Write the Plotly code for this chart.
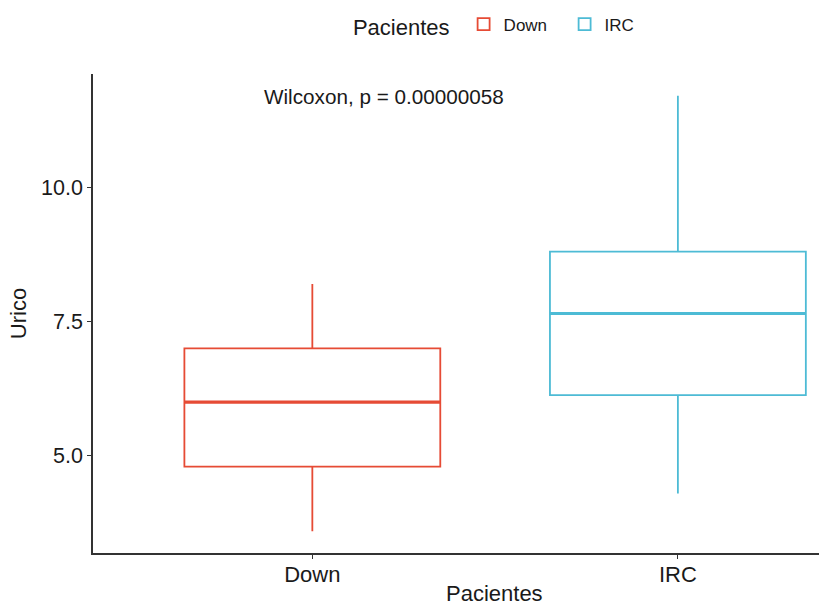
import plotly.graph_objects as go

# Box summary statistics per patient group
groups = ["Down", "IRC"]
positions = [1, 2]
lower_whisker = [3.6, 4.3]
q1 = [4.8, 6.13]
median = [6.0, 7.65]
q3 = [7.0, 8.8]
upper_whisker = [8.2, 11.7]
colors = ["#E64B35", "#4DBBD5"]

y_ticks = [5.0, 7.5, 10.0]
y_tick_labels = ["5.0", "7.5", "10.0"]
p_label = "Wilcoxon, p = 0.00000058"
x_title = "Pacientes"
y_title = "Urico"
legend_title = "Pacientes"

FONT = "Liberation Sans, Arial, Helvetica, sans-serif"
TEXT = "#1a1a1a"
BOX_WIDTH = 0.7

fig = go.Figure()

for i, g in enumerate(groups):
    fig.add_trace(go.Box(
        name=g,
        x=[positions[i]],
        q1=[q1[i]],
        median=[median[i]],
        q3=[q3[i]],
        lowerfence=[lower_whisker[i]],
        upperfence=[upper_whisker[i]],
        width=BOX_WIDTH,
        whiskerwidth=0,
        line=dict(color=colors[i], width=1.8),
        fillcolor="rgba(255,255,255,0)",
        boxpoints=False,
        hoverinfo="skip",
    ))
    # thicker median bar, as in ggplot's boxplot
    fig.add_trace(go.Scatter(
        x=[positions[i] - BOX_WIDTH / 2, positions[i] + BOX_WIDTH / 2],
        y=[median[i], median[i]],
        mode="lines",
        line=dict(color=colors[i], width=3.2),
        showlegend=False,
        hoverinfo="skip",
    ))

# p-value label
fig.add_annotation(
    x=1.196, y=11.68, xref="x", yref="y",
    text=p_label, showarrow=False,
    font=dict(family=FONT, size=20.7, color=TEXT),
    xanchor="center", yanchor="middle",
)

# x-axis title, centred on the full panel width, sitting on the bottom edge
fig.add_annotation(
    x=0.553, y=-0.112, xref="paper", yref="paper",
    text=x_title, showarrow=False,
    font=dict(family=FONT, size=22, color=TEXT),
    xanchor="center", yanchor="bottom", borderpad=0,
)

fig.update_layout(
    width=819, height=607,
    margin=dict(l=93, r=0, t=74, b=54),
    paper_bgcolor="white", plot_bgcolor="white",
    font=dict(family=FONT, color=TEXT),
    showlegend=True,
    legend=dict(
        orientation="h",
        x=0.3552, xanchor="left",
        y=1.10, yanchor="middle",
        title=dict(text=legend_title + " ", font=dict(family=FONT, size=22, color=TEXT), side="left"),
        font=dict(family=FONT, size=17, color=TEXT),
        itemwidth=30,
        entrywidth=56,
        bgcolor="rgba(0,0,0,0)",
    ),
    xaxis=dict(
        range=[0.4, 2.386],
        tickvals=positions,
        ticktext=groups,
        showgrid=False, zeroline=False,
        showline=True, linecolor="#333333", linewidth=1.6,
        ticks="outside", ticklen=4, tickwidth=1.4, tickcolor="#333333",
        tickfont=dict(family=FONT, size=22, color=TEXT),
        ticklabelstandoff=-3,
        automargin=False,
    ),
    yaxis=dict(
        range=[3.195, 12.105],
        tickvals=y_ticks,
        ticktext=y_tick_labels,
        showgrid=False, zeroline=False,
        showline=True, linecolor="#333333", linewidth=1.6,
        ticks="outside", ticklen=4, tickwidth=1.4, tickcolor="#333333",
        tickfont=dict(family=FONT, size=21.5, color=TEXT),
        automargin=False,
        title=dict(text=y_title, font=dict(family=FONT, size=22, color=TEXT), standoff=8),
    ),
)

fig.write_html("out.html")
